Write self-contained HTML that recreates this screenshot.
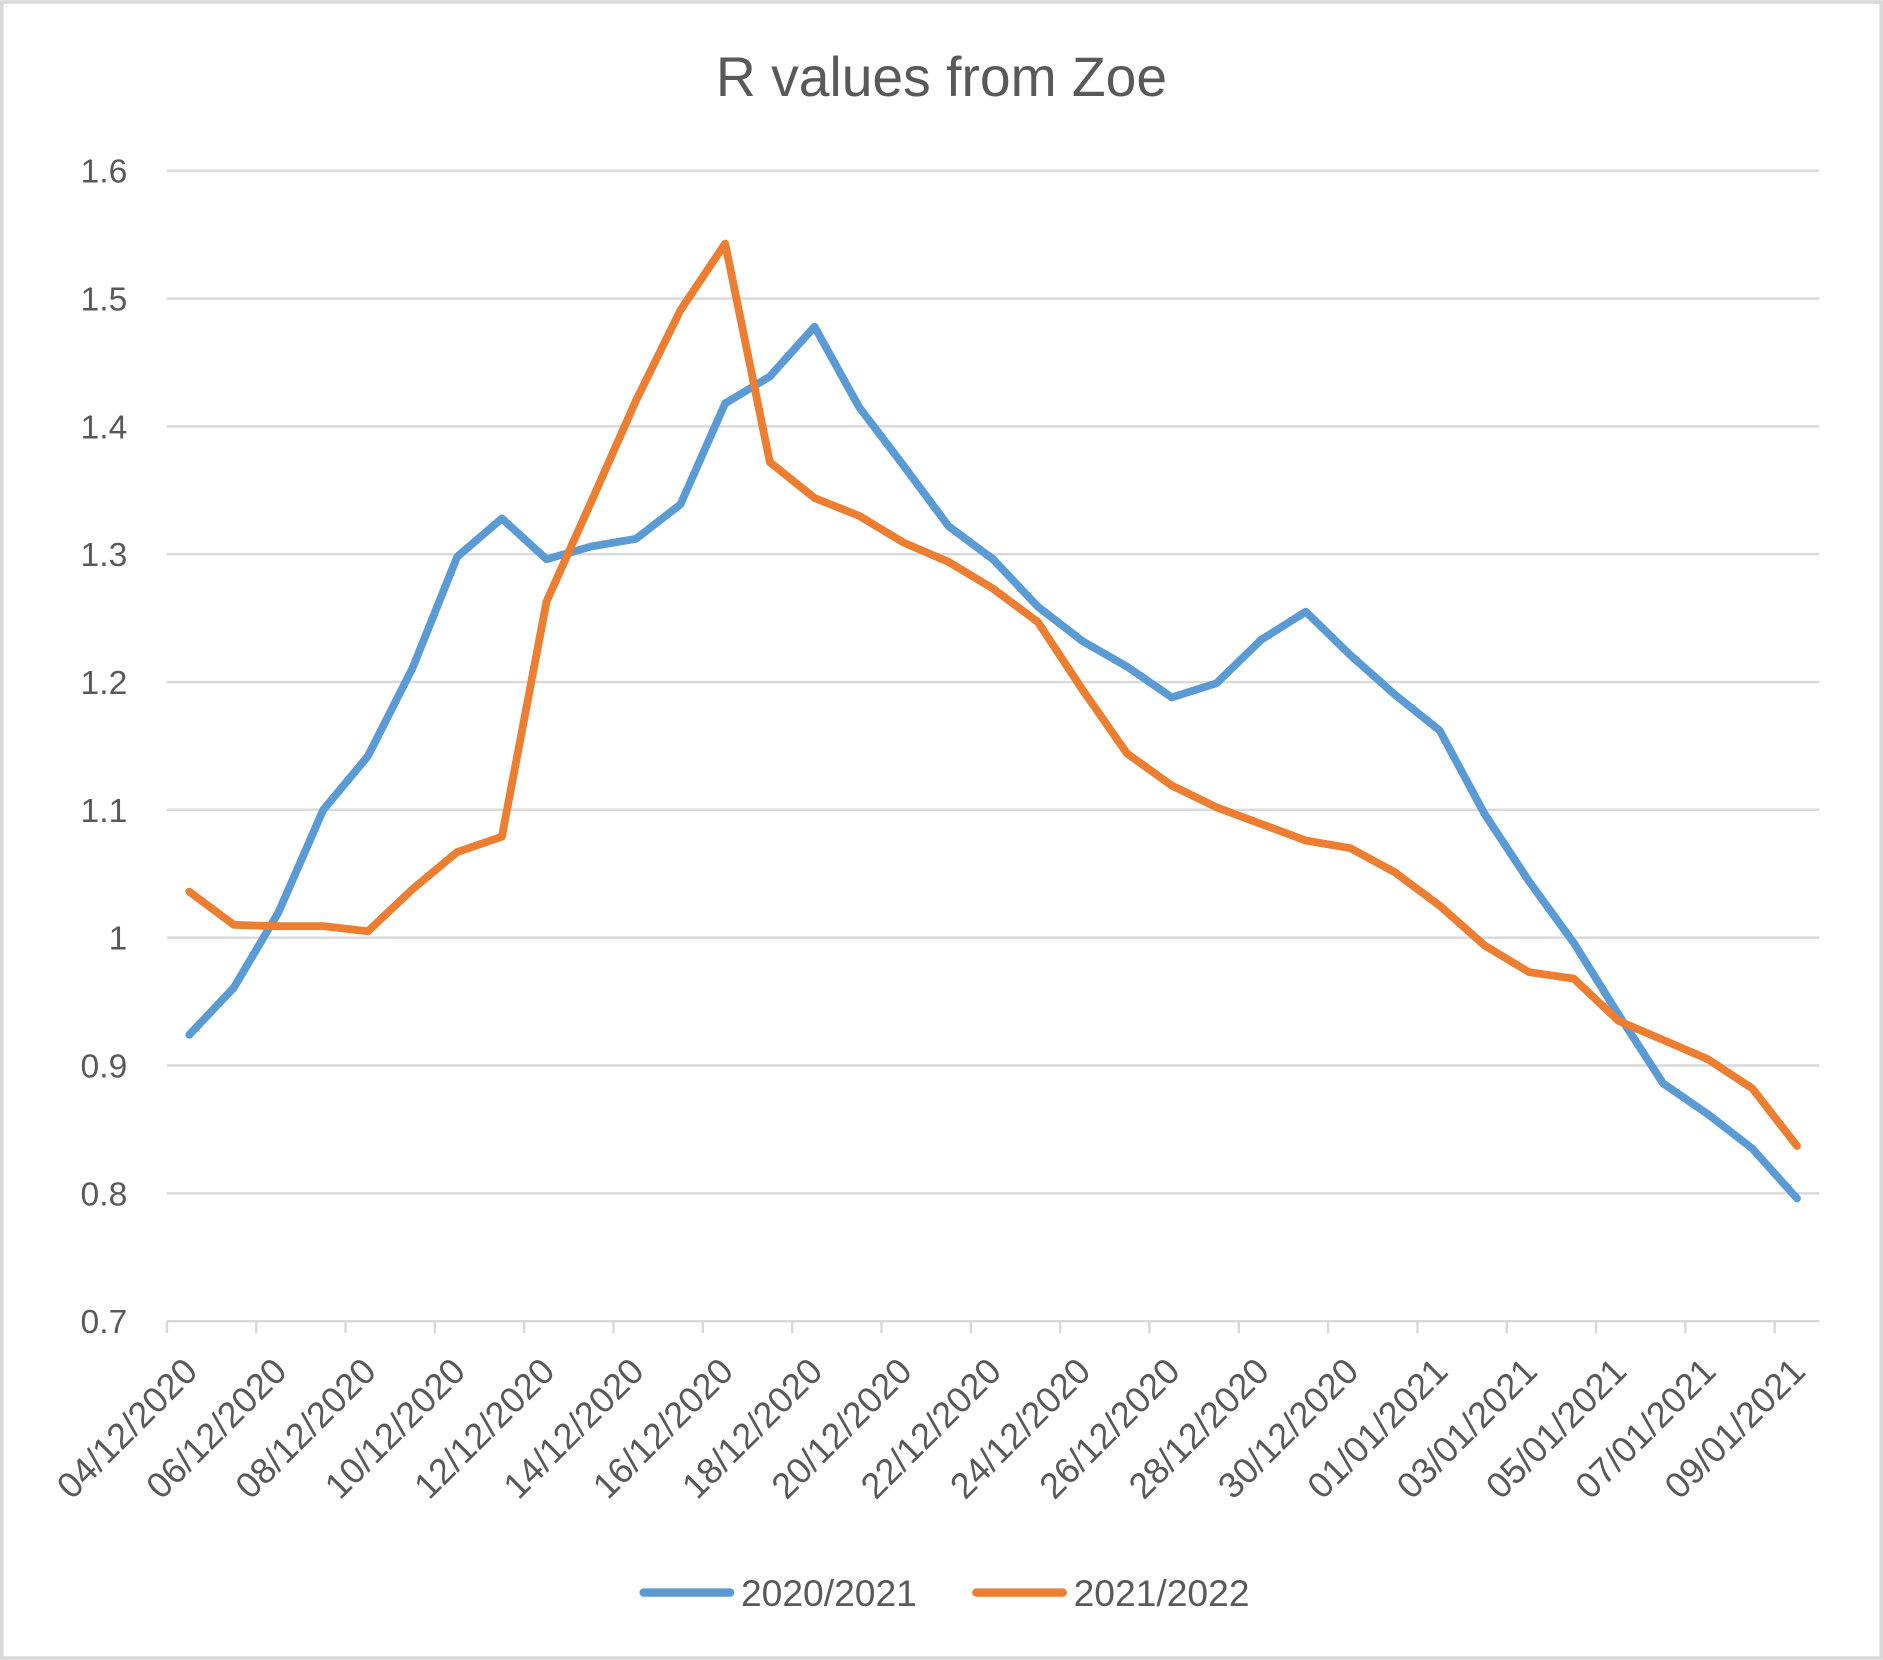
<!DOCTYPE html>
<html><head><meta charset="utf-8"><style>
html,body{margin:0;padding:0;background:#fff}
svg{display:block;font-family:"Liberation Sans","DejaVu Sans",sans-serif}
</style></head><body>
<svg id="chart" width="1883" height="1660" viewBox="0 0 1568 1382" xmlns="http://www.w3.org/2000/svg">
<rect x="1.5" y="1.5" width="1565" height="1379" fill="#fff" stroke="#d9d9d9" stroke-width="3"/>
<text x="784" y="80" text-anchor="middle" font-size="46" fill="#595959">R values from Zoe</text>
<g id="grid"></g><g id="xaxis"></g><g id="series"></g>
<g>
<line x1="536" y1="1326" x2="608" y2="1326" stroke="#5b9bd5" stroke-width="7" stroke-linecap="round"/>
<text x="617" y="1337" font-size="31" fill="#595959">2020/2021</text>
<line x1="813" y1="1326" x2="885" y2="1326" stroke="#ed7d31" stroke-width="7" stroke-linecap="round"/>
<text x="894" y="1337" font-size="31" fill="#595959">2021/2022</text>
</g>
</svg>
<script>
const categories=[];
(function(){const d=new Date(Date.UTC(2020,11,4));for(let i=0;i<37;i++){const t=new Date(d.getTime()+i*86400000);categories.push(String(t.getUTCDate()).padStart(2,'0')+'/'+String(t.getUTCMonth()+1).padStart(2,'0')+'/'+t.getUTCFullYear());}})();
const series2020=[0.924,0.961,1.020,1.100,1.142,1.211,1.298,1.328,1.296,1.306,1.312,1.339,1.418,1.439,1.478,1.415,1.369,1.322,1.296,1.259,1.232,1.212,1.188,1.199,1.233,1.255,1.221,1.190,1.162,1.097,1.044,0.996,0.940,0.886,0.862,0.835,0.796];
const series2021=[1.036,1.010,1.009,1.009,1.005,1.038,1.067,1.079,1.263,1.341,1.420,1.491,1.543,1.372,1.344,1.330,1.309,1.294,1.273,1.247,1.194,1.144,1.119,1.102,1.089,1.076,1.070,1.051,1.025,0.994,0.973,0.968,0.935,0.920,0.905,0.882,0.837];
const yTicks=[0.7,0.8,0.9,1,1.1,1.2,1.3,1.4,1.5,1.6];
const yTickLabels=["0.7","0.8","0.9","1","1.1","1.2","1.3","1.4","1.5","1.6"];
const NS="http://www.w3.org/2000/svg";
const L=139,R=1515,T=142,B=1100,ymin=0.7,ymax=1.6;
const step=(R-L)/categories.length;
const xs=i=>L+step*(i+0.5);
const ys=v=>B-(v-ymin)/(ymax-ymin)*(B-T);
function mk(tag,attrs,parent){const e=document.createElementNS(NS,tag);for(const k in attrs)e.setAttribute(k,attrs[k]);parent.appendChild(e);return e;}
const grid=document.getElementById('grid');
yTicks.forEach((v,i)=>{
 if(i>0){const g=mk('line',{x1:L,x2:R,y1:ys(v),y2:ys(v),stroke:'#d9d9d9','stroke-width':2},grid);
 
 }
 const t=mk('text',{x:106,y:ys(v)+10,'text-anchor':'end','font-size':28,fill:'#595959'},grid);
 t.textContent=yTickLabels[i];
 
 
});
const xa=document.getElementById('xaxis');
const ax=mk('line',{x1:L,x2:R,y1:B,y2:B,stroke:'#d9d9d9','stroke-width':2},xa);


for(let i=0;i<=categories.length;i+=2){
 const tk=mk('line',{x1:L+step*i,x2:L+step*i,y1:B,y2:B+10,stroke:'#d9d9d9','stroke-width':2},xa);
 
 
}
categories.forEach((c,i)=>{
 if(i%2)return;
 const x=xs(i)+1,y=B+36;
 const t=mk('text',{x:x,y:y,'text-anchor':'end','font-size':30,fill:'#595959',transform:`rotate(-45 ${x} ${y})`,dy:'0.35em'},xa);
 t.textContent=c;
 
 
});
const sg=document.getElementById('series');
[[series2020,'#5b9bd5','line-2020-2021'],[series2021,'#ed7d31','line-2021-2022']].forEach(([d,col,n])=>{
 const p=mk('polyline',{points:d.map((v,i)=>xs(i)+','+ys(v)).join(' '),fill:'none',stroke:col,'stroke-width':6.5,'stroke-linejoin':'round','stroke-linecap':'round'},sg);
 
 
});
</script>
</body></html>
